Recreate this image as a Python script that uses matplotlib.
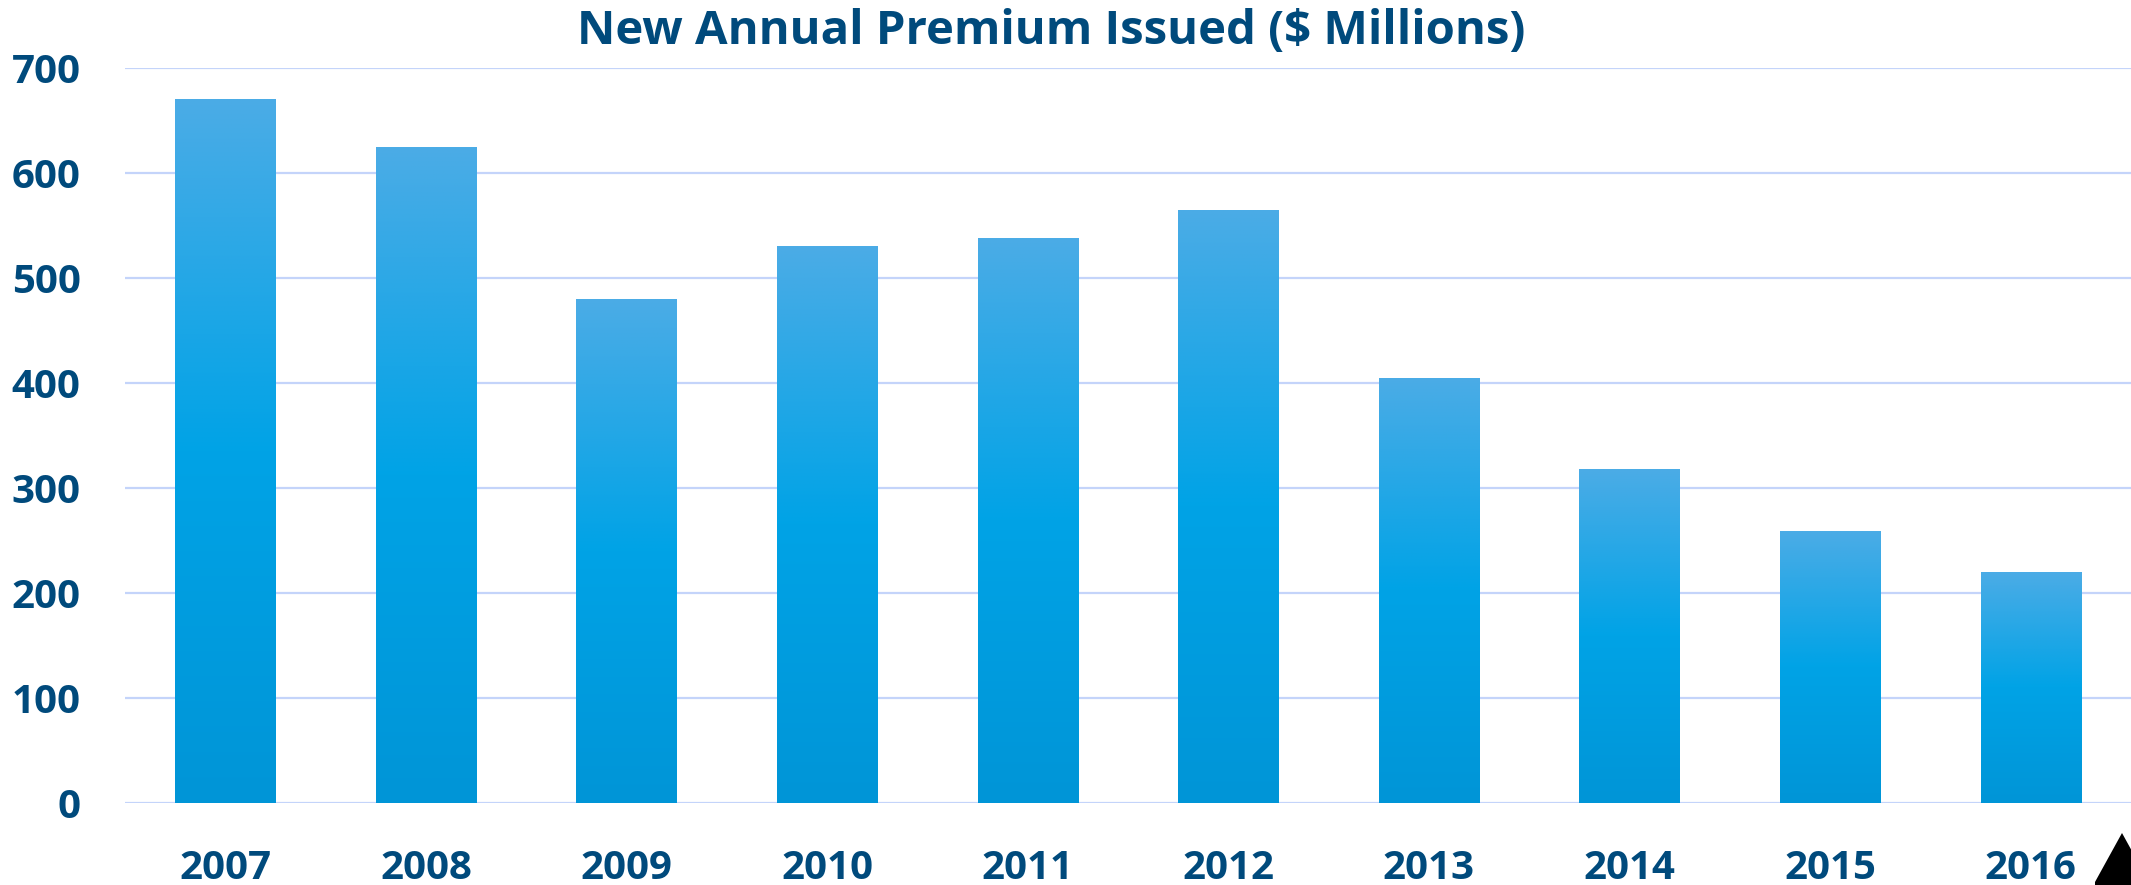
import matplotlib
matplotlib.use("Agg")
import matplotlib.pyplot as plt
import numpy as np
from matplotlib.colors import LinearSegmentedColormap
from matplotlib.patches import Polygon

years = ["2007", "2008", "2009", "2010", "2011", "2012", "2013", "2014", "2015", "2016"]
premium = [670, 625, 480, 530, 538, 565, 405, 318, 259, 220]
yticks = [0, 100, 200, 300, 400, 500, 600, 700]
title = "New Annual Premium Issued ($ Millions)"

W, H, DPI = 2131, 885, 100
text_color = "#004A7C"
grid_color = "#C4D4FA"

plt.rcParams['font.family'] = ['Open Sans', 'DejaVu Sans']

fig = plt.figure(figsize=(W / DPI, H / DPI), dpi=DPI)
ax = fig.add_axes([125 / W, (H - 802.7) / H, 1 - 125 / W, (802.7 - 68) / H])

x = np.arange(len(years))
bars = ax.bar(x, premium, width=0.5, color="none", edgecolor="none", zorder=3)

cmap = LinearSegmentedColormap.from_list(
    "grad", [(0.0, "#0095D7"), (0.5, "#00A3E6"), (1.0, "#4BACE6")])
grad = np.linspace(0, 1, 256).reshape(-1, 1)
for b in bars:
    x0, y0 = b.get_x(), b.get_y()
    w, h = b.get_width(), b.get_height()
    im = ax.imshow(grad, cmap=cmap, aspect="auto", origin="lower",
                   extent=[x0, x0 + w, y0, y0 + h], zorder=3, interpolation="bilinear")
    im.set_clip_path(b)

ax.set_xlim(-0.5, len(years) - 0.5)
ax.set_ylim(0, 700)
ax.set_yticks(yticks)
ax.set_xticks(x)
ax.set_xticklabels(years)
for s in ax.spines.values():
    s.set_visible(False)
ax.grid(axis="y", color=grid_color, linewidth=1.6, zorder=0)
ax.set_axisbelow(True)
ax.tick_params(axis="both", length=0, labelsize=29, labelcolor=text_color)
ax.tick_params(axis="y", pad=32)
ax.tick_params(axis="x", pad=33)
for lab in ax.get_xticklabels() + ax.get_yticklabels():
    lab.set_fontweight("bold")

fig.text(1051 / W, 1 - 32 / H, title, ha="center", va="center",
         fontsize=34, fontweight="bold", color=text_color)

tri = Polygon([[2095 / W, 1 - 882 / H], [2122 / W, 1 - 833 / H], [2149 / W, 1 - 882 / H],
               [2149 / W, 0.0], [2095 / W, 0.0]],
              closed=True, transform=fig.transFigure, facecolor="black",
              edgecolor="none", clip_on=False)
fig.patches.append(tri)

fig.savefig("out.png", dpi=DPI)
